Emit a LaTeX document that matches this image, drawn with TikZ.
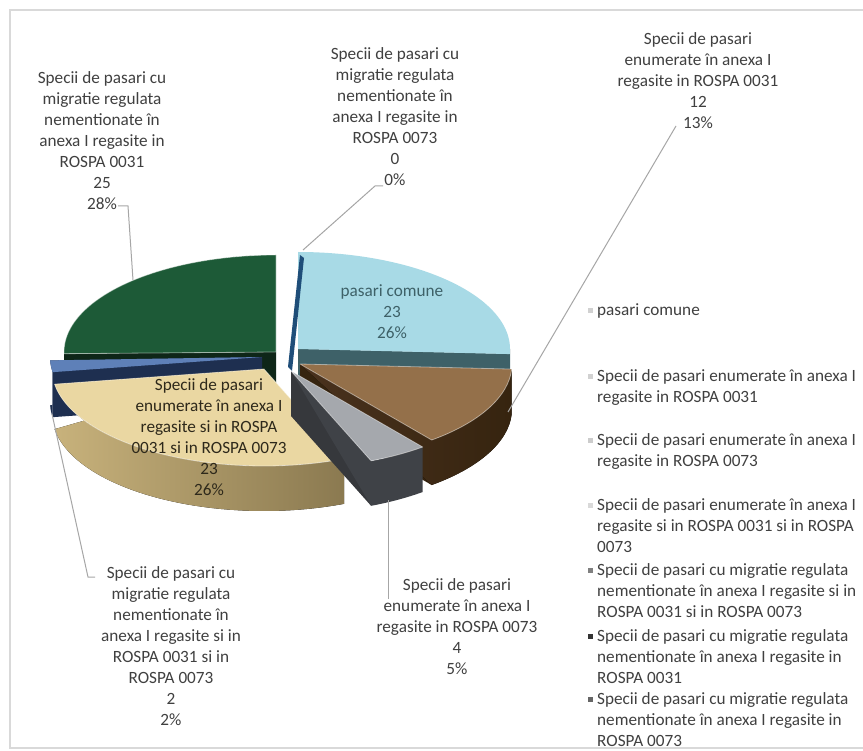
\documentclass[tikz,border=0pt]{standalone}
\usepackage{fontspec}
\setmainfont{Carlito}
\usetikzlibrary{positioning}

\definecolor{comuneTop}{HTML}{A8DAE6}
\definecolor{comuneSide}{HTML}{3E6168}
\definecolor{woodTop}{HTML}{94704A}
\definecolor{woodSide}{HTML}{4A321E}
\definecolor{woodFace}{HTML}{36240F}
\definecolor{graniteTop}{HTML}{A5A8AD}
\definecolor{graniteSide}{HTML}{3F4247}
\definecolor{tanTop}{HTML}{EAD7A2}
\definecolor{tanSide}{HTML}{B9A26B}
\definecolor{blueTop}{HTML}{5E80B8}
\definecolor{blueSide}{HTML}{1E2F50}
\definecolor{greenTop}{HTML}{1D5A37}
\definecolor{greenSide}{HTML}{0E2618}
\definecolor{zeroBlue}{HTML}{1F4E79}
\definecolor{labelGray}{HTML}{404040}
\definecolor{leaderGray}{HTML}{A6A6A6}
\definecolor{frameGray}{HTML}{D9D9D9}

\newcommand{\pieRX}{212}
\newcommand{\pieRY}{97}
\newcommand{\pieH}{45}
% point on the rim of a slice: apex x, apex y, angle
\newcommand{\rimpt}[3]{({#1+\pieRX*cos(#3)},{#2-\pieRY*sin(#3)})}

\begin{document}
\begin{tikzpicture}[x=1pt,y=-1pt,
        rim/.style={x radius=\pieRX, y radius=\pieRY},
        bevel/.style={draw=white, draw opacity=0.45, line width=0.8pt, line join=round},
        lbl/.style={align=center, inner sep=0pt, text=labelGray, font=\fontsize{17.2}{21}\selectfont},
        legend/.style={align=left, inner sep=0pt, text=labelGray, font=\fontsize{17.2}{21}\selectfont},
        bullet/.style={minimum size=5pt, inner sep=0pt},
        leader/.style={draw=leaderGray, line width=1pt}
    ]
    \useasboundingbox (0,0) rectangle (863,751);
    \fill[white] (0,0) rectangle (863,751);
    \draw[frameGray, line width=1.5pt] (10,10) rectangle (900,748);

    % green marble
    \fill[greenSide] (276,352) -- \rimpt{276}{352}{181} -- ++(0,\pieH) -- (276,397) -- cycle;
    \fill[greenSide] (276,352) ++(-212,0) arc[rim, start angle=-180, end angle=-181] -- ++(0,\pieH) arc[rim, start angle=-181, end angle=-180] -- cycle;
    \filldraw[fill=greenTop, bevel] (276,352) -- ++(0,-97) arc[rim, start angle=-90, end angle=-181] -- cycle;

    % pasari comune
    \fill[comuneSide] (298,349) -- \rimpt{298}{349}{357} -- ++(0,\pieH) -- (298,394) -- cycle;
    \fill[comuneSide] (298,349) -- \rimpt{298}{349}{357} arc[rim, start angle=-357, end angle=-360] -- ++(0,\pieH) arc[rim, start angle=-360, end angle=-357] -- cycle;
    \fill[comuneTop] (298,349) -- \rimpt{298}{349}{357} arc[rim, start angle=-357, end angle=-450] -- cycle;

    \fill[zeroBlue] (300,255) -- (304,258) -- (292,371) -- (288,367) -- cycle;

    % blue 2%
    \fill[blueSide] (262,357) -- \rimpt{262}{357}{189} -- ++(0,\pieH) -- (262,402) -- cycle;
    \fill[blueSide] (262,357) -- \rimpt{262}{357}{182} arc[rim, start angle=-182, end angle=-189] -- ++(0,\pieH) arc[rim, start angle=-189, end angle=-182] -- cycle;
    \fill[blueTop] (262,357) -- \rimpt{262}{357}{182} arc[rim, start angle=-182, end angle=-189] -- cycle;

    % wood
    \fill[woodFace] (300,364) -- \rimpt{300}{364}{308.4} -- ++(0,\pieH) -- (300,409) -- cycle;
    \fill[left color=woodSide, right color=woodFace] (300,364) -- \rimpt{300}{364}{308.4} arc[rim, start angle=-308.4, end angle=-357] -- ++(0,\pieH) arc[rim, start angle=-357, end angle=-308.4] -- cycle;
    \filldraw[fill=woodTop, bevel] (300,364) -- \rimpt{300}{364}{308.4} arc[rim, start angle=-308.4, end angle=-357] -- cycle;

    % light wood
    \fill[left color=tanSide!70!tanTop, right color=tanSide!75!black] (264,369) -- \rimpt{264}{369}{189} arc[rim, start angle=-189, end angle=-292.2] -- ++(0,\pieH) arc[rim, start angle=-292.2, end angle=-189] -- cycle;
    \filldraw[fill=tanTop, bevel] (264,369) -- \rimpt{264}{369}{189} arc[rim, start angle=-189, end angle=-292.2] -- cycle;

    % granite
    \fill[graniteSide!85!black] (291,371) -- \rimpt{291}{371}{292.2} -- ++(0,\pieH) -- (291,416) -- cycle;
    \fill[graniteSide] (291,371) -- \rimpt{291}{371}{292.2} arc[rim, start angle=-292.2, end angle=-308.4] -- ++(0,\pieH) arc[rim, start angle=-308.4, end angle=-292.2] -- cycle;
    \filldraw[fill=graniteTop, bevel] (291,371) -- \rimpt{291}{371}{292.2} arc[rim, start angle=-292.2, end angle=-308.4] -- cycle;

    \coordinate (tipGreen) at (133,280);
    \coordinate (tipZero)  at (303,250);
    \coordinate (tipWood)  at (508,412);
    \coordinate (tipBlue)  at (52,414);
    \coordinate (tipGray)  at (388,500);

    \node[lbl, anchor=north] (lGreen) at (102,71.5)
        {Specii de pasari cu\\migratie regulata\\nementionate în\\anexa I regasite in\\ROSPA 0031\\25\\28\%};
    \node[lbl, anchor=north] (lZero) at (395,47.5)
        {Specii de pasari cu\\migratie regulata\\nementionate în\\anexa I regasite  in\\ROSPA 0073\\0\\0\%};
    \node[lbl, anchor=north] (lWood) at (698,32.5)
        {Specii de pasari\\enumerate în anexa I\\regasite in ROSPA 0031\\12\\13\%};
    \node[lbl, anchor=north] (lBlue) at (171,566.5)
        {Specii de pasari cu\\migratie regulata\\nementionate în\\anexa I regasite si in\\ROSPA 0031 si in\\ROSPA 0073\\2\\2\%};
    \node[lbl, anchor=north] (lGray) at (457,578.5)
        {Specii de pasari\\enumerate în anexa I\\regasite in ROSPA 0073\\4\\5\%};
    \node[lbl, anchor=north, text=comuneSide] (lComune) at (392,284.5) {pasari comune\\23\\26\%};
    \node[lbl, anchor=north, text=black!75!tanSide] (lTan) at (209,378.5)
        {Specii de pasari\\enumerate în anexa I\\regasite si in ROSPA\\0031 si in ROSPA 0073\\23\\26\%};

    \draw[leader] ([shift={(16,-4)}]lGreen.south) -- ++(10,0) -- (tipGreen);
    \draw[leader] ([shift={(-12,0)}]lZero.south) -- ++(-8,0) -- (tipZero);
    \draw[leader] ([shift={(-22,-3)}]lWood.south) -- (tipWood);
    \draw[leader] ([shift={(-76,10.5)}]lBlue.north) -- ++(-7,0) -- (tipBlue);
    \draw[leader] ([shift={(-69,20)}]lGray.north) -- (tipGray);

    \node[legend, anchor=north west] (k1) at (597,303.5) {pasari comune};
    \node[legend, anchor=north west] (k2) at (597,369.5) {Specii de pasari enumerate în anexa I\\regasite in ROSPA 0031};
    \node[legend, anchor=north west] (k3) at (597,433.5) {Specii de pasari enumerate în anexa I\\regasite in ROSPA 0073};
    \node[legend, anchor=north west] (k4) at (597,498.5) {Specii de pasari enumerate în anexa I\\regasite si in ROSPA 0031 si in ROSPA\\0073};
    \node[legend, anchor=north west] (k5) at (597,563.5) {Specii de pasari cu migratie regulata\\nementionate în anexa I regasite si in\\ROSPA 0031 si in ROSPA 0073};
    \node[legend, anchor=north west] (k6) at (597,629.5) {Specii de pasari cu migratie regulata\\nementionate în anexa I regasite in\\ROSPA 0031};
    \node[legend, anchor=north west] (k7) at (597,692.5) {Specii de pasari cu migratie regulata\\nementionate în anexa I regasite  in\\ROSPA 0073};

    \node[bullet, fill=black!18, left=4pt of k1.north west, yshift=-7pt] (b1) {};
    \node[bullet, fill=black!18, left=4pt of k2.north west, yshift=-7pt] (b2) {};
    \node[bullet, fill=black!20, left=4pt of k3.north west, yshift=-7pt] (b3) {};
    \node[bullet, fill=black!15, left=4pt of k4.north west, yshift=-7pt] (b4) {};
    \node[bullet, fill=black!50, left=4pt of k5.north west, yshift=-7pt] (b5) {};
    \node[bullet, fill=black!80, left=4pt of k6.north west, yshift=-7pt] (b6) {};
    \node[bullet, fill=black!60, left=4pt of k7.north west, yshift=-7pt] (b7) {};
\end{tikzpicture}
\end{document}
